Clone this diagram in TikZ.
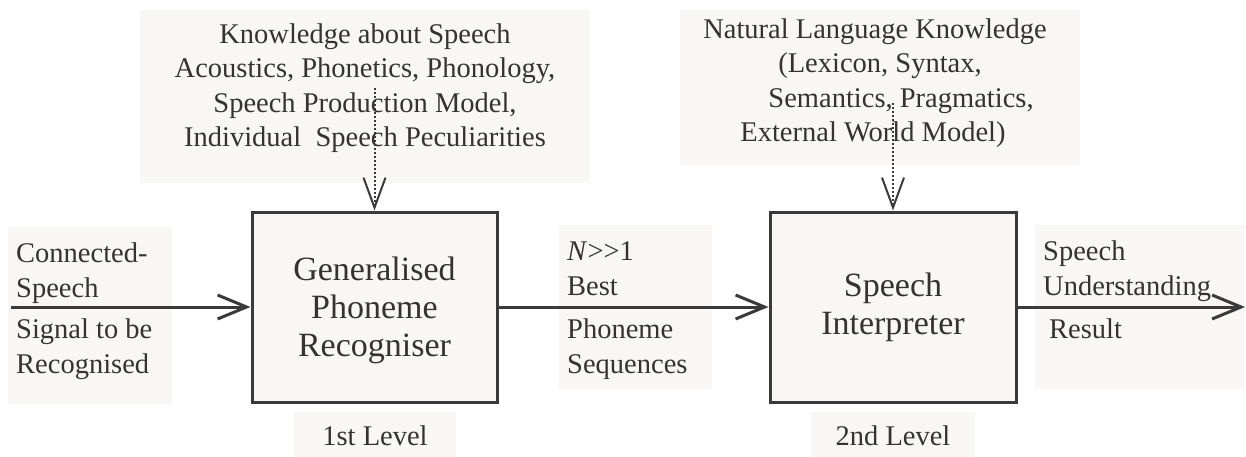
\documentclass[tikz,border=0pt]{standalone}
\usepackage{fontspec}
\setmainfont{Liberation Serif}
\usetikzlibrary{arrows.meta}
\definecolor{boxfill}{RGB}{248,247,245}
\definecolor{ink}{RGB}{58,58,58}
\definecolor{txt}{RGB}{51,51,51}
\newcommand\lblfont{\fontsize{28.5}{35}\selectfont}
\newcommand\knowfont{\fontsize{28.5}{34.5}\selectfont}
\newcommand\procfont{\fontsize{34}{38}\selectfont}
\begin{document}
\begin{tikzpicture}[x=1pt,y=-1pt,
  procbox/.style={draw=ink, line width=3pt, fill=boxfill, minimum height=190pt, inner sep=0pt, font=\procfont, text=txt, align=center},
  bg/.style={fill=boxfill},
  lbl/.style={font=\lblfont, text=txt, align=left, inner sep=0pt, anchor=base west},
  know/.style={font=\knowfont, text=txt, align=center, inner sep=0pt, anchor=base},
  flow/.style={draw=ink, line width=3pt, -{Straight Barb[length=29pt,width=24pt]}},
  feed/.style={draw=ink, line width=2pt, dash pattern=on 2pt off 2pt, -{Straight Barb[length=30pt,width=22pt]}},
  lvl/.style={fill=boxfill, font=\lblfont, text=txt, inner sep=0pt, minimum height=48pt}
]
\useasboundingbox (0,0) rectangle (1246,457);
\fill[white] (0,0) rectangle (1246,457);
% label backgrounds
\fill[bg] (140,10) rectangle (590,183);
\fill[bg] (680,10) rectangle (1080,165);
\fill[bg] (8,227) rectangle (172,404);
\fill[bg] (559,225) rectangle (712,389);
\fill[bg] (1035,225) rectangle (1245,389);
% process boxes
\node[procbox, minimum width=245pt] (rec) at (374.5,307) {\rule{0pt}{30pt}Generalised\\Phoneme\\Recogniser};
\node[procbox, minimum width=246pt] (interp) at (893,307) {Speech\\Interpreter};
% knowledge texts (anchored at the baseline of the last line)
\node[know] (kn1) at (365,147) {Knowledge about Speech\\Acoustics, Phonetics, Phonology,\\Speech Production Model,\\Individual\ \ Speech Peculiarities};
\node[know] (kn2) at (880,142) {Natural Language Knowledge\hspace*{10pt}\\(Lexicon, Syntax,\\\hspace*{42pt}Semantics, Pragmatics,\\External World Model)\hspace*{14pt}};
% flow labels (anchored at the baseline of the last line)
\node[lbl] (inA) at (16,297) {Connected-\\Speech};
\node[lbl] (inB) at (16,373) {Signal to be\\Recognised};
\node[lbl] (midA) at (567,295) {\textit{N}>\kern0pt>1\\Best};
\node[lbl] (midB) at (567,373) {Phoneme\\Sequences};
\node[lbl] (outA) at (1043,295) {Speech\\Understanding};
\node[lbl] (outB) at (1049,338) {Result};
% level labels
\node[lvl, minimum width=162pt] (lv1) at (375,436) {1st Level};
\node[lvl, minimum width=164pt] (lv2) at (893,436) {2nd Level};
% connectors
\coordinate (src) at (11,307);
\coordinate (dst) at (1245,307);
\draw[flow] (src) -- (rec.west);
\draw[flow] (rec.east) -- (interp.west);
\draw[flow] (interp.east) -- (dst);
\coordinate (kfrom1) at (374.5,88);
\coordinate (kfrom2) at (893,103);
\draw[feed] (kfrom1) -- (rec.north);
\draw[feed] (kfrom2) -- (interp.north);
\end{tikzpicture}
\end{document}
